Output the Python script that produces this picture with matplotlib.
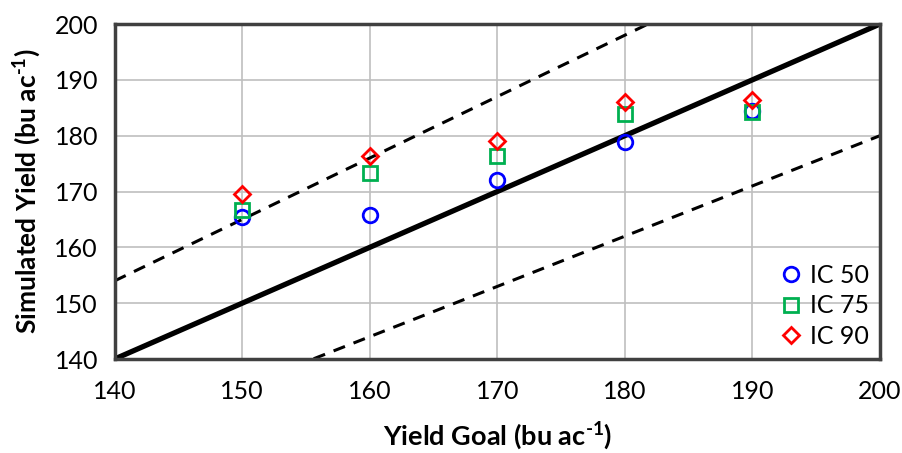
import matplotlib
matplotlib.use("Agg")
import matplotlib.pyplot as plt
import numpy as np

plt.rcParams['font.family'] = ['Lato', 'DejaVu Sans']
plt.rcParams['mathtext.fontset'] = 'custom'
plt.rcParams['mathtext.rm'] = 'Lato:bold'
plt.rcParams['mathtext.bf'] = 'Lato:bold'

yield_goal = [150, 160, 170, 180, 190]
ic50 = [165.5, 165.8, 172.1, 178.8, 184.4]
ic75 = [166.7, 173.4, 176.4, 183.8, 184.2]
ic90 = [169.6, 176.3, 179.0, 186.1, 186.3]

ref_x = [140, 200]
upper_ratio = 1.1
lower_ratio = 0.9

fig = plt.figure(figsize=(9.03, 4.53), dpi=100)
ax = fig.add_axes([0.127, 0.2075, 0.8475, 0.7395])

xs = np.array(ref_x, dtype=float)
ax.plot(xs, xs, color='black', lw=3.8, zorder=2)
ax.plot(xs, xs * upper_ratio, color='black', lw=2.2, ls=(0, (4, 3)), zorder=2)
ax.plot(xs, xs * lower_ratio, color='black', lw=2.2, ls=(0, (4, 3)), zorder=2)

ax.plot(yield_goal, ic50, 'o', mfc='none', mec='#0000FF', mew=2.0, ms=10.5, label='IC 50', zorder=3)
ax.plot(yield_goal, ic75, 's', mfc='none', mec='#00B050', mew=2.0, ms=10.5, label='IC 75', zorder=3)
ax.plot(yield_goal, ic90, 'D', mfc='none', mec='#FF0000', mew=2.0, ms=8.5, label='IC 90', zorder=3)

ax.set_xlim(140, 200)
ax.set_ylim(140, 200)
ax.set_xticks(np.arange(140, 201, 10))
ax.set_yticks(np.arange(140, 201, 10))
ax.grid(True, color='#BFBFBF', lw=1.2, zorder=0)
ax.set_axisbelow(True)
ax.tick_params(axis='both', length=0, labelsize=18, colors='black')
ax.tick_params(axis='x', pad=15)
ax.tick_params(axis='y', pad=12)
for sp in ax.spines.values():
    sp.set_linewidth(2.5)
    sp.set_color('#404040')

ax.set_xlabel(r'Yield Goal (bu ac$^{\text{-1}}$)', fontsize=19.5, fontweight='bold', labelpad=12)
ax.set_ylabel(r'Simulated Yield (bu ac$^{\text{-1}}$)', fontsize=19, fontweight='bold', labelpad=8)

leg = ax.legend(loc='lower right', frameon=False, fontsize=18, handletextpad=0.15,
                borderaxespad=0.05, labelspacing=0.3, handlelength=1.2)

fig.savefig('out.png', dpi=100)
